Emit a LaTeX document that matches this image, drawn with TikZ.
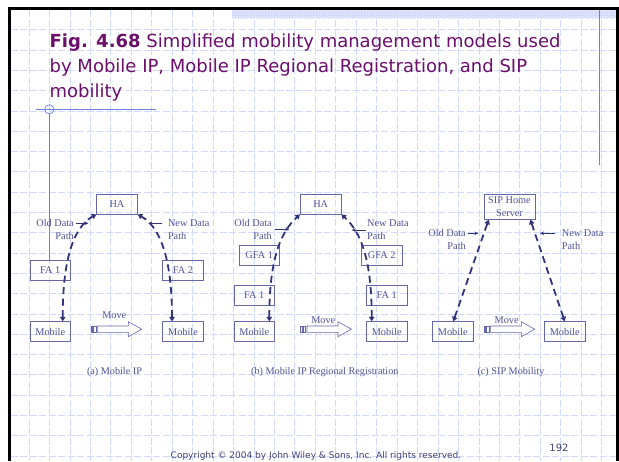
\documentclass[tikz,border=0pt]{standalone}
\usepackage{fontspec}
\setmainfont{Liberation Serif}
\newfontfamily\titlefont{DejaVu Sans}
\usetikzlibrary{arrows.meta,calc,patterns}
\definecolor{gridc}{rgb}{0.82,0.85,0.99}
\definecolor{bluel}{rgb}{0.42,0.50,0.90}
\definecolor{boxc}{rgb}{0.40,0.40,0.68}
\definecolor{txtc}{rgb}{0.32,0.32,0.58}
\definecolor{pathc}{rgb}{0.20,0.20,0.48}
\definecolor{titlec}{rgb}{0.42,0.06,0.42}
\definecolor{bandc}{rgb}{0.88,0.90,1.00}
\definecolor{banddot}{rgb}{0.72,0.77,0.97}
\definecolor{footc}{rgb}{0.25,0.25,0.45}
\newcommand\dfont{\fontsize{10.3}{12.7}\selectfont}
\begin{document}
\begin{tikzpicture}[x=1pt,y=-1pt,
  gridline/.style={draw=gridc,line width=0.8pt,dash pattern=on 7pt off 2.5pt},
  boxn/.style={draw=boxc,line width=0.7pt,text=txtc,font=\dfont,minimum width=40.7pt,minimum height=20pt,inner sep=0pt},
  lbl/.style={text=txtc,font=\dfont,inner sep=0pt},
  dpath/.style={draw=pathc,line width=1.8pt,dash pattern=on 7pt off 4.5pt,{Triangle[length=4.5pt,width=5.5pt]}-{Triangle[length=4.5pt,width=5.5pt]}},
  larrow/.style={draw=pathc,line width=0.6pt,-{Stealth[length=4pt,width=3.6pt]}},
  movearrow/.pic={
    \path[draw=boxc,line width=0.6pt,fill=white] (0,-3.2) rectangle (1.3,3.2) (2.5,-3.2) rectangle (4.8,3.2);
    \path[draw=boxc,line width=0.6pt,fill=white] (6.3,-3.2) -- (37.3,-3.2) -- (37.3,-7.5) -- (50.7,0) -- (37.3,7.5) -- (37.3,3.2) -- (6.3,3.2) -- cycle;
  }
]
\useasboundingbox (0,0) rectangle (619,461);
\fill[white] (0,0) rectangle (619,461);
% grid
\foreach \k in {0,...,28} \draw[gridline] ({29+20.45*\k},10) -- ({29+20.45*\k},461);
\foreach \k in {-12,...,9} \draw[gridline] (10.5,{273.3+20.3*\k}) -- (616,{273.3+20.3*\k});
% band
\fill[bandc] (232,10) rectangle (616,18.3);
\fill[pattern=crosshatch dots,pattern color=banddot] (232,10) rectangle (616,18.3);
% blue guide lines
\coordinate (cross) at (49.3,109.3);
\draw[bluel,line width=0.8pt] (36,109.3) -- (156,109.3);
\draw[bluel,line width=0.7pt] (cross) circle (4.6pt);
\draw[bluel,line width=0.7pt] (599.3,10) -- (599.3,165);
% border
\draw[black,line width=3pt] (9,461) -- (9,8.3) -- (617.5,8.3) -- (617.5,461);
% title
\node[anchor=base west,inner sep=0pt,text=titlec,font=\titlefont\fontsize{18}{24}\selectfont] (title1) at (49.5,47) {\textbf{Fig. 4.68} Simplified mobility management models used};
\node[anchor=base west,inner sep=0pt,text=titlec,font=\titlefont\fontsize{18}{24}\selectfont] (title2) at (49.5,72.2) {by Mobile IP, Mobile IP Regional Registration, and SIP};
\node[anchor=base west,inner sep=0pt,text=titlec,font=\titlefont\fontsize{18}{24}\selectfont] (title3) at (49.5,97.3) {mobility};

% (a) Mobile IP
\node[boxn] (haA) at (117,204) {HA};
\node[boxn] (faA1) at (50.3,270) {FA 1};
\node[boxn] (faA2) at (183,270) {FA 2};
\node[boxn] (mobA1) at (50.3,331.7) {Mobile};
\node[boxn] (mobA2) at (183,331.7) {Mobile};
\draw[bluel,line width=0.7pt] ([yshift=-4.6pt]cross) -- (faA1.north -| cross);
\draw[dpath] ([xshift=12.4pt]mobA1.north) .. controls +(0,-57) and +(-24.7,14) .. (haA.south west);
\draw[dpath] ([xshift=-11pt]mobA2.north) .. controls +(0,-57) and +(24.7,14) .. (haA.south east);
\node[lbl,align=right,anchor=north east] (oldA) at (74,219.6) {Old Data\\Path};
\node[lbl,align=left,anchor=north west] (newA) at (167.8,219.6) {New Data\\Path};
\coordinate (oA1) at (76,223.3); \coordinate (oA2) at (88.3,223.3);
\coordinate (nA1) at (161.7,223.3); \coordinate (nA2) at (148.3,223.3);
\draw[larrow] (oA1) -- (oA2);
\draw[larrow] (nA1) -- (nA2);
\pic at (91,329.2) {movearrow};
\node[lbl] (moveA) at (114.3,315.5) {Move};
\node[lbl] (capA) at (114.5,372.5) {\fontsize{10.2}{12}\selectfont (a) Mobile IP};

% (b) Mobile IP Regional Registration
\node[boxn] (haB) at (320.7,204) {HA};
\node[boxn] (gfaB1) at (259.2,255.5) {GFA 1};
\node[boxn] (faB1) at (254.3,295.5) {FA 1};
\node[boxn] (mobB1) at (254.3,331.7) {Mobile};
\node[boxn] (gfaB2) at (381.7,255.5) {GFA 2};
\node[boxn] (faB2) at (386.7,295.5) {FA 1};
\node[boxn] (mobB2) at (386.7,331.7) {Mobile};
\draw[dpath] ([xshift=15pt]mobB1.north) .. controls +(0,-61.7) and +(-19.7,18) .. (haB.south west);
\draw[dpath] ([xshift=-15pt]mobB2.north) .. controls +(0,-61.7) and +(19.7,18) .. (haB.south east);
\node[lbl,align=right,anchor=north east] (oldB) at (272,219.6) {Old Data\\Path};
\node[lbl,align=left,anchor=north west] (newB) at (367,219.6) {New Data\\Path};
\coordinate (oB1) at (275,229.3); \coordinate (oB2) at (289.3,229.3);
\coordinate (nB1) at (366,230); \coordinate (nB2) at (351.7,230);
\draw[larrow] (oB1) -- (oB2);
\draw[larrow] (nB1) -- (nB2);
\pic at (300.7,329.2) {movearrow};
\node[lbl] (moveB) at (323.3,320) {Move};
\node[lbl] (capB) at (324.8,372.5) {\fontsize{10.2}{12}\selectfont (b) Mobile IP Regional Registration};

% (c) SIP Mobility
\node[boxn,minimum width=51pt,minimum height=25.3pt,align=center] (sip) at (509.5,206.7) {SIP Home\\Server};
\node[boxn] (mobC1) at (452.8,331.7) {Mobile};
\node[boxn] (mobC2) at (564.7,331.7) {Mobile};
\draw[dpath] ([xshift=0.5pt]mobC1.north) -- ([xshift=5pt]sip.south west);
\draw[dpath] (mobC2.north) -- ([xshift=-5pt]sip.south east);
\node[lbl,align=right,anchor=north east] (oldC) at (466,229.6) {Old Data\\Path};
\node[lbl,align=left,anchor=north west] (newC) at (561.7,229.6) {New Data\\Path};
\coordinate (oC1) at (468.3,233.3); \coordinate (oC2) at (478.3,233.3);
\coordinate (nC1) at (555,233.3); \coordinate (nC2) at (540,233.3);
\draw[larrow] (oC1) -- (oC2);
\draw[larrow] (nC1) -- (nC2);
\pic at (484,329.2) {movearrow};
\node[lbl] (moveC) at (506.7,320) {Move};
\node[lbl] (capC) at (511,372.5) {\fontsize{10.2}{12}\selectfont (c) SIP Mobility};

% footer
\node[anchor=base,inner sep=0pt,text=footc,font=\titlefont\fontsize{10}{12}\selectfont] (pagenum) at (559,451.7) {192};
\node[anchor=base,inner sep=0pt,text=footc,font=\titlefont\fontsize{9}{11}\selectfont] (copy) at (316,458.2) {Copyright © 2004 by John Wiley \& Sons, Inc. All rights reserved.};
\end{tikzpicture}
\end{document}
